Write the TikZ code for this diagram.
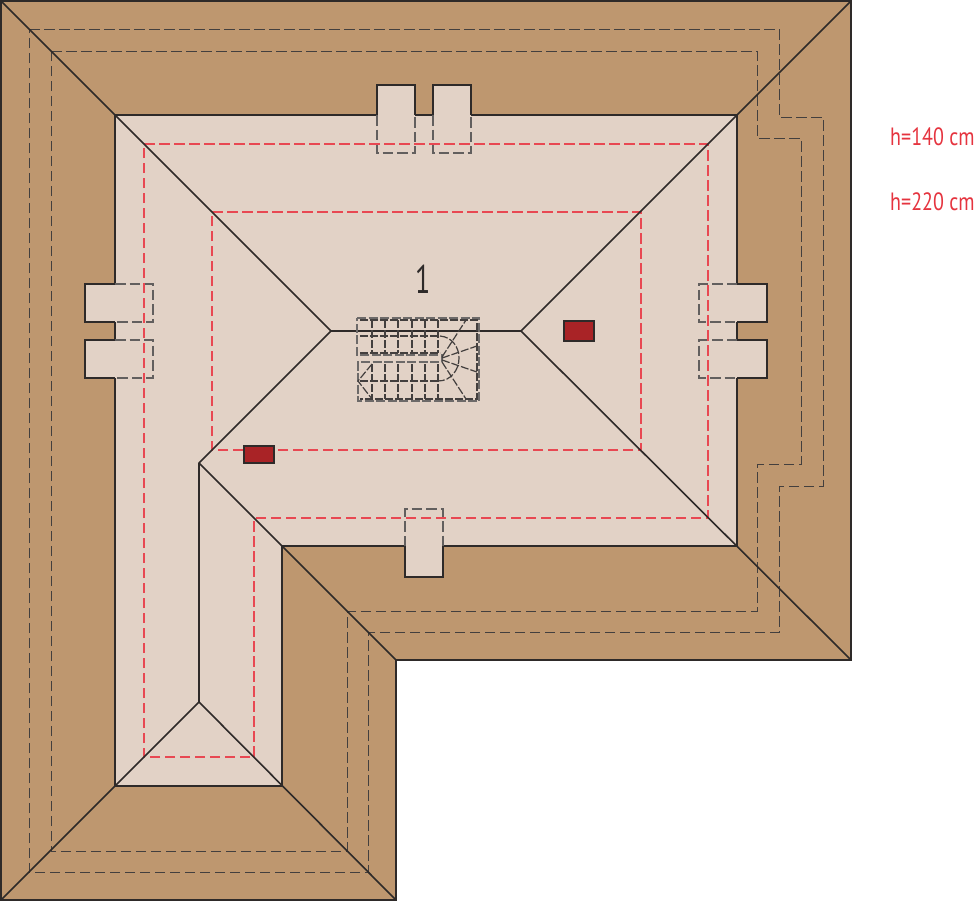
\documentclass[tikz,border=0pt]{standalone}
\usepackage{fontspec}
\setmainfont{PT Sans}[FakeStretch=0.8]
\newfontfamily\onefont{PT Sans}[FakeStretch=0.7]
\definecolor{roofb}{HTML}{BE976F}
\definecolor{roofl}{HTML}{E2D2C6}
\definecolor{ink}{HTML}{2E2A29}
\definecolor{redd}{HTML}{E5343F}
\definecolor{chim}{HTML}{A92326}
\tikzset{
  solid line/.style={draw=ink,line width=1.6pt,line join=miter},
  thin solid/.style={draw=ink,line width=1.6pt},
  eave/.style={draw=ink!90,line width=1pt,dash pattern=on 10.5pt off 4.5pt},
  redline/.style={draw=redd!90,line width=1.3pt,dash pattern=on 10.5pt off 4.5pt},
  overhang/.style={draw=ink!75,line width=1.3pt,dash pattern=on 10.5pt off 4pt},
  stair/.style={draw=ink!90,line width=1.2pt,dash pattern=on 8pt off 2pt},
  stairb/.style={draw=ink!70,line width=1.4pt,dash pattern=on 9pt off 2.5pt},
  label/.style={text=redd,font=\fontsize{25}{27}\selectfont,anchor=west,inner sep=0pt},
  chimney/.style={draw=ink,fill=chim,line width=1.3pt}
}
\begin{document}
\begin{tikzpicture}[x=1pt,y=-1pt]
\useasboundingbox (0,0) rectangle (974,902);
% roof
\path[fill=roofb] (1,1)--(851,1)--(851,660)--(396,660)--(396,900)--(1,900)--cycle;
% dormers fill
\foreach \a/\b in {377/415,433/471} \fill[roofl] (\a,85) rectangle (\b,153);
\foreach \a/\b in {284/322,340/378} {\fill[roofl] (85,\a) rectangle (153,\b); \fill[roofl] (699,\a) rectangle (767,\b);}
\fill[roofl] (405,509) rectangle (443,577);
\path[fill=roofl] (115,115)--(737,115)--(737,546)--(282,546)--(282,786)--(115,786)--cycle;
\path[solid line] (115,115)--(377,115) (415,115)--(433,115) (471,115)--(737,115)--(737,284) (737,322)--(737,340) (737,378)--(737,546)--(443,546) (405,546)--(282,546)--(282,786)--(115,786)--(115,378) (115,340)--(115,322) (115,284)--(115,115);
% dormers outline
\foreach \a/\b in {377/415,433/471} {\draw[solid line] (\a,115)--(\a,85)--(\b,85)--(\b,115); \draw[overhang] (\a,115)--(\a,153)--(\b,153)--(\b,115);}
\foreach \a/\b in {284/322,340/378} {
  \draw[solid line] (115,\a)--(85,\a)--(85,\b)--(115,\b);
  \draw[overhang] (115,\a)--(153,\a)--(153,\b)--(115,\b);
  \draw[solid line] (737,\a)--(767,\a)--(767,\b)--(737,\b);
  \draw[overhang] (737,\a)--(699,\a)--(699,\b)--(737,\b);
}
\draw[solid line] (405,546)--(405,577)--(443,577)--(443,546);
\draw[overhang] (405,546)--(405,509)--(443,509)--(443,546);
% eave dashed
\draw[eave] (29,29)--(779,29)--(779,117)--(823,117)--(823,486)--(779,486)--(779,632)--(368,632)--(368,872)--(29,872)--cycle;
\draw[eave] (51,51)--(757,51)--(757,138)--(801,138)--(801,464)--(757,464)--(757,611)--(347,611)--(347,851)--(51,851)--cycle;
% red limits
\draw[redline] (144,144)--(708,144)--(708,518)--(254,518)--(254,757)--(144,757)--cycle;
\draw[redline] (212,212)--(641,212)--(641,450)--(212,450)--cycle;
% ridges
\draw[thin solid,line cap=round,line join=round]
 (1,1)--(331,331)--(521,331)--(851,1)
 (521,331)--(851,660)
 (331,331)--(199,463)--(396,660)
 (199,463)--(199,702)--(1,900)
 (199,702)--(396,900);
% chimneys
\draw[chimney] (564,321) rectangle (594,341);
\draw[chimney] (244,446) rectangle (274,463);
% stairs
\draw[stairb] (357,318)--(479,318)--(479,401)--(358,401)--(358,362)--(442,362)--(442,355)--(357,355)--cycle;
\draw[stair] (360,320)--(477,320)--(477,399)--(360,399);
\draw[stair] (360,336)--(438,336) (360,353)--(440,353) (360,381)--(438,381);
\foreach \x in {372,385,398,412,425,438} {\draw[stair] (\x,320)--(\x,353); \draw[stair] (\x,364)--(\x,399);}
\draw[stair] (440,336) .. controls (452,337) and (459,347) .. (459,358) .. controls (459,370) and (451,381) .. (438,381);
\draw[stair] (442,357)--(466,320) (442,358)--(477,346) (442,360)--(477,372) (442,362)--(466,399);
\draw[stair] (372,364)--(358,381)--(372,399);
% labels
\node[label] (n140) at (890,137) {h=140 cm};
\node[label] (n220) at (890,202) {h=220 cm};
\node[text=ink,font=\onefont\fontsize{40}{42}\selectfont,inner sep=0pt] (n1) at (423,279) {1};
% outer outline
\draw[solid line,line width=1.9pt] (1,1)--(851,1)--(851,660)--(396,660)--(396,900)--(1,900)--cycle;
\end{tikzpicture}
\end{document}
